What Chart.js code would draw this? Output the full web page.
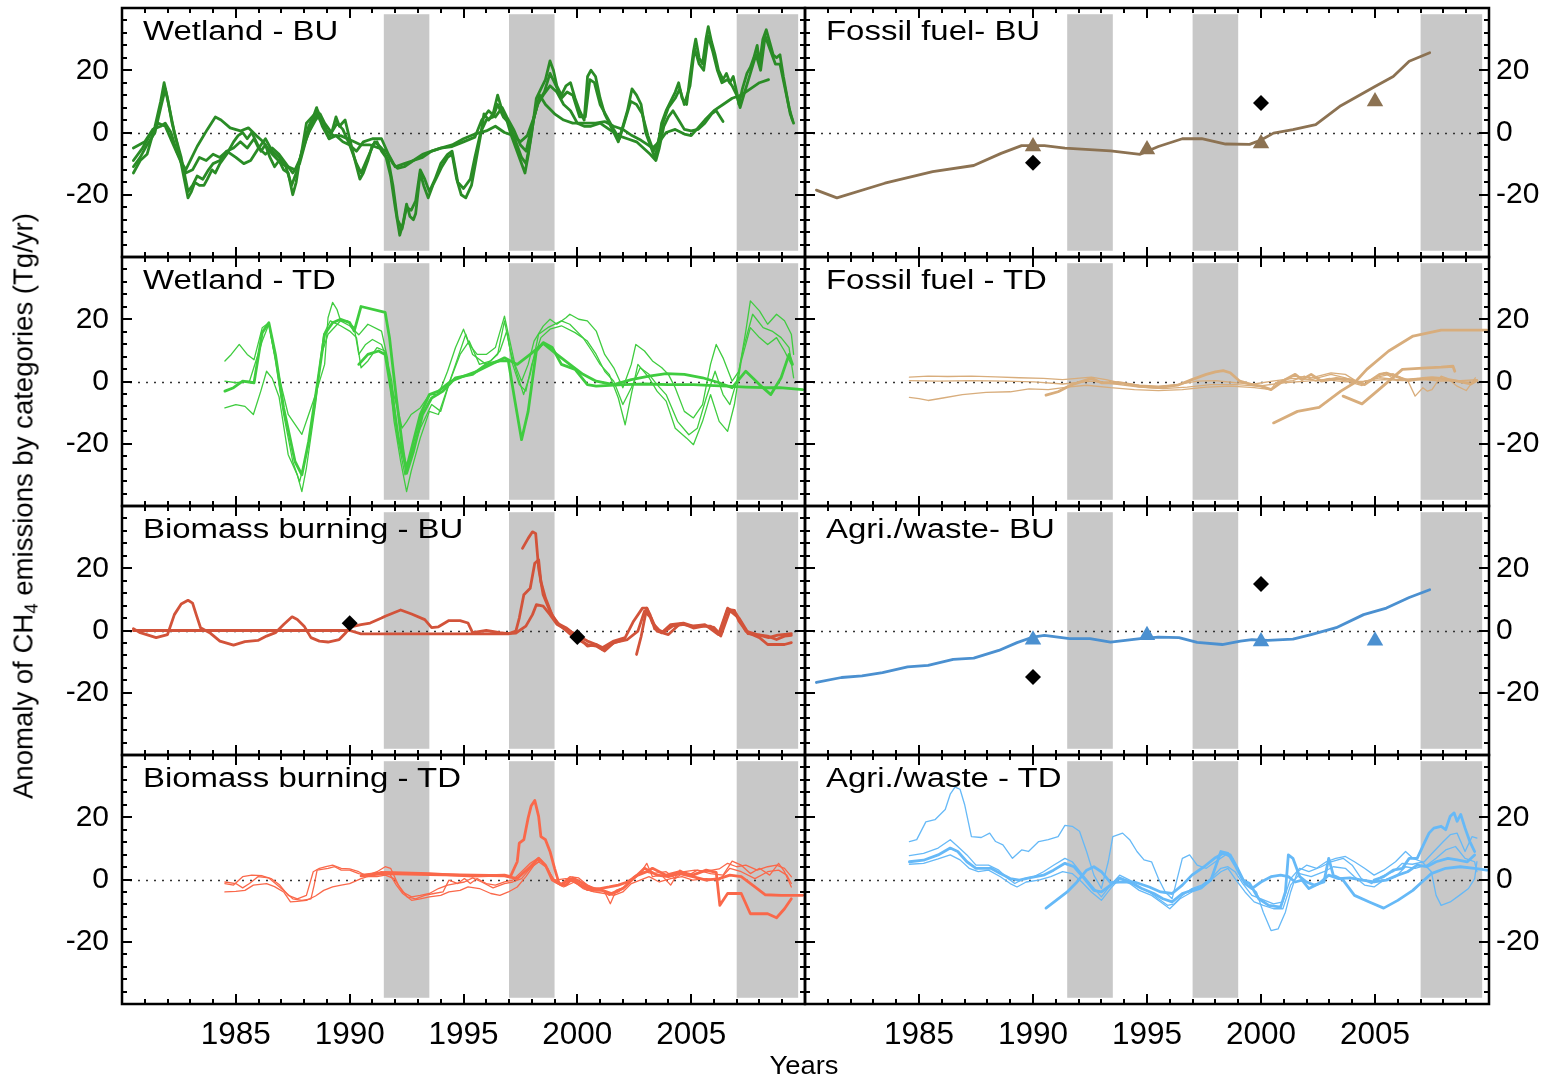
<!DOCTYPE html>
<html><head><meta charset="utf-8">
<script src="https://cdn.jsdelivr.net/npm/chart.js@4.4.1/dist/chart.umd.min.js"></script>
<style>
html,body{margin:0;padding:0;background:#fff;width:1555px;height:1078px;overflow:hidden;}
#wrap{position:relative;width:1555px;height:1078px;}
.pt{position:absolute;font-family:"Liberation Sans",Arial,sans-serif;font-size:27px;line-height:27px;color:#000;transform:scaleX(1.22);transform-origin:0 0;white-space:nowrap;z-index:5;}
#ytitle{position:absolute;left:24px;top:506px;transform:translate(-50%,-50%) rotate(-90deg) scaleX(1.02);font-family:"Liberation Sans",Arial,sans-serif;font-size:27px;line-height:27px;white-space:nowrap;z-index:5;}
#ytitle sub{font-size:0.68em;vertical-align:-0.28em;line-height:0;}
#xtitle{position:absolute;left:804px;top:1052px;transform:translateX(-50%) scaleX(1.05);font-family:"Liberation Sans",Arial,sans-serif;font-size:26px;line-height:26px;white-space:nowrap;z-index:5;}
</style></head><body><div id="wrap"></div>
<script>
// ---------------- data ----------------
const X_TICKS = [1985, 1990, 1995, 2000, 2005];
const Y_TICKS = [-20, 0, 20];
const X_RANGE = [1980, 2010];
const Y_RANGE = [-40, 40];
const SHADE_RANGE = [-38, 38];
const PERIODS = [[1991.5, 1993.5], [1997, 1999], [2007, 2009.7]];

// Wetland - BU
const WBU1 = [[1980.5,-13],[1980.8,-9],[1981.1,-7],[1981.45,2],[1981.7,10],[1981.85,16],[1982.0,11],[1982.2,3],[1982.4,-3],[1982.6,-10],[1982.9,-21],[1983.05,-19],[1983.2,-16],[1983.4,-17],[1983.6,-17],[1983.75,-15],[1983.95,-12],[1984.1,-13],[1984.3,-10],[1984.6,-7],[1984.9,-3],[1985.1,-1],[1985.3,0],[1985.5,-2],[1985.7,0],[1985.9,-3],[1986.1,-6],[1986.3,-4],[1986.5,-8],[1986.7,-11],[1986.9,-9],[1987.1,-12],[1987.3,-13],[1987.5,-20],[1987.65,-16],[1987.8,-9],[1988.0,-4],[1988.2,2],[1988.4,5],[1988.55,8],[1988.7,4],[1988.9,2],[1989.1,-2],[1989.25,1],[1989.4,5],[1989.55,2],[1989.8,4],[1990.0,-2],[1990.2,-8],[1990.45,-15],[1990.6,-13],[1990.8,-9],[1991.0,-4],[1991.2,-3],[1991.4,-6],[1991.6,-8],[1991.8,-14],[1992.0,-24],[1992.2,-33],[1992.35,-29],[1992.5,-23],[1992.65,-27],[1992.8,-28],[1992.9,-26],[1993.1,-13],[1993.25,-17],[1993.45,-21],[1993.65,-17],[1993.85,-14],[1994.05,-11],[1994.3,-8],[1994.5,-7],[1994.7,-15],[1994.9,-20],[1995.1,-21],[1995.35,-17],[1995.55,-9],[1995.75,-1],[1995.9,6],[1996.1,4],[1996.3,6],[1996.5,12],[1996.7,7],[1996.9,4],[1997.1,-1],[1997.3,-5],[1997.5,-9],[1997.7,-13],[1997.85,-7],[1998.0,0],[1998.2,11],[1998.4,14],[1998.6,17],[1998.8,23],[1998.95,20],[1999.1,15],[1999.3,12],[1999.5,15],[1999.7,16],[1999.9,11],[2000.1,7],[2000.3,4],[2000.45,18],[2000.6,20],[2000.8,18],[2001.0,11],[2001.2,6],[2001.4,3],[2001.6,0],[2001.8,-3],[2002.0,2],[2002.2,7],[2002.4,14],[2002.6,12],[2002.8,9],[2003.0,0],[2003.2,-4],[2003.4,-8],[2003.55,-4],[2003.7,3],[2003.9,7],[2004.1,10],[2004.3,13],[2004.45,16],[2004.6,11],[2004.8,9],[2004.95,18],[2005.1,26],[2005.2,30],[2005.35,24],[2005.5,22],[2005.65,30],[2005.75,34],[2005.9,29],[2006.05,25],[2006.2,20],[2006.4,17],[2006.55,19],[2006.7,16],[2006.85,18],[2007.0,13],[2007.1,9],[2007.25,14],[2007.45,19],[2007.6,21],[2007.75,24],[2007.9,28],[2008.0,22],[2008.15,30],[2008.3,33],[2008.45,29],[2008.6,25],[2008.75,24],[2008.9,25],[2009.05,18],[2009.2,12],[2009.35,6],[2009.5,3]];
const WBU2 = [[1980.5,-11],[1980.8,-8],[1981.1,-4],[1981.45,0],[1981.7,8],[1981.9,14],[1982.05,9],[1982.3,0],[1982.6,-8],[1982.9,-19],[1983.1,-17],[1983.3,-14],[1983.55,-15],[1983.8,-12],[1984.0,-10],[1984.3,-9],[1984.6,-6],[1984.9,-5],[1985.2,-3],[1985.5,-5],[1985.8,-2],[1986.0,-5],[1986.3,-2],[1986.6,-6],[1986.9,-8],[1987.2,-11],[1987.45,-17],[1987.7,-12],[1987.9,-6],[1988.2,0],[1988.5,4],[1988.7,6],[1988.9,3],[1989.2,0],[1989.45,3],[1989.7,1],[1990.0,-4],[1990.3,-10],[1990.5,-13],[1990.8,-8],[1991.1,-3],[1991.4,-5],[1991.7,-9],[1991.9,-17],[1992.1,-28],[1992.3,-31],[1992.5,-24],[1992.7,-25],[1992.9,-22],[1993.1,-12],[1993.3,-15],[1993.5,-19],[1993.75,-15],[1994.0,-10],[1994.3,-7],[1994.5,-6],[1994.75,-16],[1995.0,-18],[1995.3,-15],[1995.5,-8],[1995.75,0],[1996.0,4],[1996.3,5],[1996.5,9],[1996.75,5],[1997.0,3],[1997.3,-3],[1997.55,-8],[1997.75,-10],[1997.9,-4],[1998.1,5],[1998.3,10],[1998.55,13],[1998.8,19],[1999.0,16],[1999.3,11],[1999.55,13],[1999.8,12],[2000.1,5],[2000.35,5],[2000.55,17],[2000.75,16],[2001.0,9],[2001.3,5],[2001.6,1],[2001.85,-2],[2002.1,4],[2002.35,10],[2002.6,9],[2002.85,6],[2003.1,-1],[2003.35,-6],[2003.55,-3],[2003.75,3],[2004.0,8],[2004.3,11],[2004.5,14],[2004.7,9],[2004.95,15],[2005.15,27],[2005.35,22],[2005.55,20],[2005.75,31],[2005.95,26],[2006.15,20],[2006.35,16],[2006.6,17],[2006.8,15],[2007.0,12],[2007.15,8],[2007.35,13],[2007.6,19],[2007.85,25],[2008.05,20],[2008.25,31],[2008.45,27],[2008.7,22],[2008.9,22],[2009.1,15],[2009.3,8],[2009.45,4]];
const WBU3 = [[1980.5,-5],[1981.0,-3],[1981.35,1],[1981.7,2],[1981.9,3],[1982.15,0],[1982.4,-6],[1982.65,-10],[1982.8,-12],[1983.3,-4.5],[1983.75,1],[1984.1,5],[1984.35,4],[1984.75,1.5],[1985.2,0.5],[1985.55,1.5],[1985.9,-1],[1986.2,-3],[1986.6,-7],[1987.0,-10],[1987.3,-11],[1987.6,-12],[1987.85,-8],[1988.1,3],[1988.35,5],[1988.6,7],[1988.75,4],[1989.0,0.5],[1989.3,-1],[1989.6,-1],[1989.9,-2],[1990.2,-3],[1990.5,-4],[1990.9,-4],[1991.3,-5],[1991.6,-6],[1991.9,-10],[1992.1,-11.5],[1992.4,-11],[1992.8,-9],[1993.2,-7],[1993.6,-6],[1994.0,-5],[1994.5,-4],[1995.0,-2],[1995.5,-0.5],[1996.0,0.5],[1996.4,2],[1996.8,0],[1997.2,-1],[1997.5,-3],[1997.8,-1],[1998.1,5],[1998.35,12],[1998.6,9],[1999.0,6],[1999.4,4],[1999.8,3],[2000.3,3],[2000.8,3],[2001.2,3.5],[2001.6,2],[2002.0,1],[2002.4,-1],[2002.8,-2.5],[2003.1,-4],[2003.3,-5],[2003.6,-3],[2003.9,0],[2004.3,1],[2004.7,-0.5],[2005.0,-1],[2005.3,1.5],[2005.6,4],[2006.0,7],[2006.4,9],[2006.8,11],[2007.2,12],[2007.6,14],[2008.0,16],[2008.4,17]];
const WBU4 = [[1980.5,-9],[1980.9,-5],[1981.3,0],[1981.6,3],[1981.9,2],[1982.2,-3],[1982.5,-8],[1982.8,-13],[1983.1,-12],[1983.4,-8],[1983.7,-9],[1984.0,-7],[1984.3,-8],[1984.6,-6],[1985.0,-8],[1985.35,-10],[1985.65,-9],[1986.0,-5],[1986.3,-7],[1986.6,-5],[1986.9,-7],[1987.2,-10],[1987.5,-13],[1987.8,-10],[1988.1,-2],[1988.4,4],[1988.6,6],[1988.8,2],[1989.1,-2],[1989.4,-1],[1989.7,-3],[1990.0,-4],[1990.3,-6],[1990.6,-3],[1991.0,-2],[1991.4,-2],[1991.7,-7],[1992.0,-11],[1992.4,-10],[1992.8,-9],[1993.2,-8],[1993.6,-6],[1994.0,-5],[1994.5,-4.5],[1995.0,-3],[1995.5,-1.5],[1995.8,4],[1996.1,7],[1996.4,5],[1996.7,8],[1996.9,5],[1997.2,1],[1997.5,-4],[1997.75,-6],[1998.0,2],[1998.25,9],[1998.5,12],[1998.8,15],[1999.1,13],[1999.4,9],[1999.7,7],[2000.0,3],[2000.3,2],[2000.6,2],[2001.0,3],[2001.4,1],[2001.8,-1],[2002.2,-2],[2002.6,-3],[2002.9,-5],[2003.2,-7],[2003.45,-9],[2003.6,-5],[2003.8,2],[2004.0,5],[2004.2,7],[2004.45,4],[2004.7,1],[2005.0,0.5],[2005.3,1],[2005.6,3],[2005.9,6],[2006.1,7],[2006.4,3.5]];

// Wetland - TD
const WTD1 = [[1984.52,6.6],[1984.8,8.7],[1985.15,11.9],[1985.5,8.7],[1985.8,7],[1986.16,17.3],[1986.45,18.9],[1986.64,10.9],[1986.95,0],[1987.3,-10.6],[1987.9,-17],[1988.2,-10.6],[1988.5,-4.2],[1988.9,5.5],[1989.05,20.5],[1989.25,25.4],[1989.44,23.2],[1989.6,19.5],[1989.9,19.5],[1990.2,17.3],[1990.4,8.7],[1990.7,11.9],[1991.0,13.5],[1991.4,11.9],[1991.56,8.7],[1991.85,-2],[1992.14,-9.6],[1992.3,-15],[1992.5,-13],[1992.7,-10.6],[1993.1,-8.5],[1993.5,-4.2],[1993.9,-4.2],[1994.3,3.3],[1994.65,10.9],[1995.0,16.8],[1995.25,11.9],[1995.6,8.7],[1996.0,8.7],[1996.4,10.9],[1996.8,21],[1996.97,15.2],[1997.26,5.5],[1997.55,0.1],[1997.84,5.5],[1998.1,13],[1998.5,17.8],[1998.8,20],[1999.1,18.4],[1999.5,20.5],[1999.67,21.6],[2000.06,20],[2000.44,19.5],[2000.83,16.2],[2001.2,8.7],[2001.6,4.4],[2002.0,-2],[2002.37,5.5],[2002.57,11.9],[2002.95,9.8],[2003.3,6.6],[2003.7,4.5],[2004.0,2.3],[2004.3,-2],[2004.7,-9.6],[2005.1,-11.7],[2005.5,-7.4],[2005.85,5.5],[2006.1,11.9],[2006.4,7.6],[2006.8,0.1],[2007.1,3.3],[2007.4,16.2],[2007.6,25.9],[2008.0,22.7],[2008.36,18.4],[2008.75,21.6],[2009.1,19.5],[2009.4,15.2],[2009.5,8.7]];
const WTD2 = [[1984.52,-8.5],[1985.0,-7.4],[1985.4,-8],[1985.77,-10.6],[1986.1,-3],[1986.35,3.3],[1986.6,1],[1986.9,-5],[1987.3,-23.5],[1987.7,-30],[1987.9,-35.4],[1988.1,-27.8],[1988.5,-7.4],[1988.76,8.7],[1989.05,15.2],[1989.6,19.5],[1990.0,17.9],[1990.4,15],[1990.8,18.4],[1991.4,16.2],[1991.66,7.6],[1991.95,-12.8],[1992.24,-25.7],[1992.5,-35.4],[1992.7,-28.9],[1993.1,-18.2],[1993.5,-9.6],[1993.9,-10.6],[1994.3,-2],[1994.65,5.5],[1995.1,15.2],[1995.4,8.7],[1996.0,5.5],[1996.5,8.7],[1996.8,19.5],[1997.06,9.8],[1997.36,2.3],[1997.64,-4.2],[1997.93,2.3],[1998.3,15.2],[1998.7,17.3],[1999.3,19.5],[1999.67,18.4],[2000.25,14.1],[2000.64,9.8],[2001.0,5.5],[2001.4,2.3],[2001.8,-5.3],[2002.1,-13.9],[2002.37,-4.2],[2002.66,5.5],[2003.15,1.2],[2003.5,-3.1],[2003.9,-6.3],[2004.3,-15],[2004.8,-18.2],[2005.1,-20.3],[2005.5,-12.8],[2005.85,-4.2],[2006.23,-12.8],[2006.6,-16],[2006.9,-7.4],[2007.2,6.6],[2007.6,17.3],[2008.0,14.1],[2008.36,11.9],[2008.75,14.1],[2009.1,9.8],[2009.4,5.5]];
const WTD3 = [[1984.52,0.1],[1985.0,-0.4],[1985.6,0.1],[1986.16,13],[1986.45,18.4],[1986.74,6.6],[1987.1,-10.6],[1987.5,-25.7],[1987.8,-32.2],[1988.1,-23.5],[1988.5,-5.3],[1988.86,15.2],[1989.15,19.5],[1989.6,17.9],[1990.0,16.2],[1990.3,14.1],[1990.5,4.4],[1990.8,6.6],[1991.2,10.9],[1991.56,9.8],[1991.85,0.1],[1992.14,-19.2],[1992.43,-30],[1992.7,-23.5],[1993.1,-15],[1993.6,-7.4],[1994.0,-9.6],[1994.4,0.1],[1994.85,8.7],[1995.25,13],[1995.7,5.5],[1996.2,6.6],[1996.6,9.8],[1996.9,16.2],[1997.16,5.5],[1997.45,-1],[1997.74,-3.1],[1998.0,5.5],[1998.4,14.1],[1998.8,16.8],[1999.3,17.9],[1999.9,15.7],[2000.44,13],[2000.83,8.7],[2001.2,3.3],[2001.6,0.1],[2002.0,-7.4],[2002.37,-2],[2002.76,4.4],[2003.15,2.3],[2003.5,-1],[2003.9,-4.2],[2004.4,-12.8],[2004.9,-17.1],[2005.27,-15],[2005.66,-5.3],[2006.05,3.3],[2006.4,-4.2],[2006.7,-7.4],[2007.0,0.1],[2007.3,10.9],[2007.7,21.6],[2008.16,17.3],[2008.55,16.2],[2008.95,14.1],[2009.3,10.9],[2009.5,1.2]];
const WTD4 = [[1984.52,-3.1],[1984.9,-2],[1985.3,0.1],[1985.8,-0.4],[1986.16,15.7],[1986.45,18.9],[1986.74,8.7],[1987.1,-8.5],[1987.6,-25.7],[1987.9,-30],[1988.2,-19.2],[1988.6,0.1],[1988.9,15.2],[1989.25,18.9],[1989.6,20],[1990.0,18.9],[1990.2,16.2],[1990.5,24.1],[1991.56,22.2],[1991.75,14.1],[1992.05,-5.3],[1992.33,-21.4],[1992.5,-29.5],[1992.8,-22.5],[1993.2,-10.6],[1993.6,-5.3],[1994.1,-3.1],[1994.65,1.2],[1995.4,2.3],[1996.0,5.5],[1996.6,6.6],[1996.97,6.6],[1997.26,-6.3],[1997.55,-18.7],[1997.84,-9.6],[1998.2,9.8],[1998.5,12.5],[1998.9,10.9],[1999.3,5.5],[1999.9,3.9],[2000.44,-1],[2000.83,-1.5],[2002.0,-1],[2003.0,-0.8],[2004.0,-1],[2005.1,-1],[2006.0,-1.3],[2006.6,-1.5],[2007.4,-1.8],[2008.2,-2],[2008.9,-2],[2009.9,-2.6]];
const WTD5 = [[1990.4,5.5],[1990.8,8.7],[1991.27,9.8],[1991.56,8.7],[1991.85,-4.2],[1992.14,-18.2],[1992.5,-27.8],[1992.8,-19.2],[1993.1,-10.6],[1993.5,-4.2],[1993.9,-3.1],[1994.45,0.1],[1995.0,1.7],[1995.6,3.3],[1996.2,5.5],[1996.8,7.6],[1997.36,5.5],[1997.93,8.7],[1998.5,12.2],[1999.1,8.7],[1999.67,5.5],[2000.25,2.3],[2000.83,0.1],[2001.6,-1],[2002.37,0.6],[2003.15,1.7],[2003.9,2.5],[2004.7,2.3],[2005.5,1.2],[2006.23,-0.4],[2006.8,-2],[2007.4,3.3],[2008.0,-1],[2008.5,-4.2],[2008.95,1.2],[2009.3,8.7],[2009.45,5.5]];

// Biomass burning - BU
const BBU1 = [[1980.5,0.6],[1980.8,-0.7],[1981.5,-2.3],[1982.0,-1.3],[1982.3,5.1],[1982.6,8.5],[1982.9,9.7],[1983.1,8.8],[1983.26,5.1],[1983.45,0.9],[1983.85,-0.7],[1984.3,-3.4],[1984.9,-4.7],[1985.4,-3.6],[1985.97,-3.2],[1986.35,-1.8],[1986.74,-0.7],[1987.1,1.9],[1987.47,4.4],[1987.7,3.5],[1988.0,1.4],[1988.3,-2.3],[1988.67,-3.4],[1989.05,-3.7],[1989.54,-2.9],[1989.83,-0.7],[1990.0,1.1],[1990.5,1.9],[1990.9,2.4],[1991.4,4],[1991.56,4.6],[1992.24,6.6],[1992.72,5.3],[1993.3,3.5],[1993.6,0.9],[1993.9,1.2],[1994.36,3.2],[1994.85,3.2],[1995.2,2.4],[1995.4,-0.7],[1996.0,0],[1996.6,-0.7],[1996.97,-1],[1997.3,-0.8],[1997.74,1.4],[1998.03,5.1],[1998.2,8.3],[1998.5,7.8],[1998.8,5.1],[1999.1,2],[1999.5,0.3],[1999.8,-0.7],[2000.06,-1.8],[2000.44,-3.4],[2000.83,-4.5],[2001.1,-5.5],[2001.6,-3.4],[2002.1,-2.3],[2002.47,3],[2002.86,7.2],[2003.05,7.2],[2003.3,2.4],[2003.7,-0.7],[2004.1,1.9],[2004.66,2.4],[2005.07,1.4],[2005.6,1.9],[2006.2,-1.3],[2006.6,7.2],[2007.0,5.1],[2007.4,-0.2],[2007.9,-1.3],[2008.36,-1.8],[2008.75,-2.9],[2009.1,-1.8],[2009.4,-1.6]];
const BBU2 = [[1980.5,0],[1990.0,0],[1990.5,-1.1],[1996.97,-1.1],[1997.3,-0.2],[1997.45,4],[1997.65,11.5],[1997.93,13.6],[1998.13,21.6],[1998.3,22.7],[1998.4,15.7],[1998.6,10.4],[1998.9,4.8],[1999.2,1.9],[1999.5,0],[1999.87,-2.3],[2000.44,-4.5],[2000.83,-5],[2001.2,-6.6],[2001.6,-3.9],[2002.2,-2.9],[2002.66,-0.2],[2002.95,6.2],[2003.25,4],[2003.5,-0.2],[2004.0,-1.3],[2004.5,2.1],[2005.07,1.4],[2005.85,1.4],[2006.3,-1.8],[2006.7,6.4],[2007.1,4],[2007.5,-0.7],[2008.0,-2.3],[2008.36,-4.5],[2008.75,-4.5],[2009.1,-4.5],[2009.4,-3.9]];
const BBU3 = [[1997.59,26.4],[1997.84,29.6],[1998.03,31.7],[1998.17,31.2],[1998.3,20],[1998.5,11.5],[1998.8,6.2],[1999.1,2.4],[1999.5,0.9],[2000.06,-2.3],[2000.44,-5],[2000.83,-4.5],[2001.1,-6.1],[2001.6,-4],[2002.0,-3]];
const BBU4 = [[2002.6,-7.7],[2002.8,-2],[2003.05,7.2],[2003.2,5],[2003.4,0.5],[2003.8,-0.5],[2004.2,1.5],[2004.7,2],[2005.1,0.8],[2005.6,1.5],[2006.0,1],[2006.25,-1],[2006.6,6.8],[2006.9,6.5],[2007.1,3],[2007.5,-1],[2008.0,-1.5],[2008.4,-2.3],[2008.8,-1.5],[2009.2,-1.2],[2009.4,-1]];
const BBU_DIAMONDS = [[1990, 2.3], [2000, -2.1]];

// Biomass burning - TD
const BTD1 = [[1984.52,-0.8],[1985.0,-1.3],[1985.3,-2.7],[1985.6,-1.3],[1985.97,0.9],[1986.45,0.5],[1986.74,-1.3],[1987.1,-3.5],[1987.5,-6.2],[1987.9,-6.7],[1988.3,-6.2],[1988.44,-1.8],[1988.57,3],[1989.05,3.6],[1989.34,4.1],[1989.63,3],[1990.0,3],[1990.4,1.9],[1990.8,1.4],[1991.2,2.5],[1991.56,4.1],[1991.8,3.6],[1992.14,-1.8],[1992.53,-5.6],[1992.9,-6.2],[1993.3,-5.1],[1993.7,-4.5],[1994.1,-4],[1994.36,-0.2],[1994.75,-1.3],[1995.04,0.3],[1995.3,-1.3],[1995.6,0.3],[1996.0,-1.3],[1996.4,-1.8],[1996.8,-0.8],[1997.16,-0.2],[1997.55,2.5],[1997.93,5.2],[1998.3,7],[1998.6,4.6],[1998.9,0.3],[1999.3,-1.3],[1999.67,0.9],[2000.06,0.5],[2000.44,-1.8],[2000.83,-2.9],[2001.2,-4],[2001.45,-7.8],[2001.7,-3.5],[2002.1,-2.4],[2002.47,0.9],[2002.76,1.9],[2003.05,5.2],[2003.3,0.9],[2003.7,1.4],[2004.1,-1.8],[2004.5,3],[2004.9,1.4],[2005.27,3],[2005.85,1.9],[2006.4,1.4],[2006.8,5.9],[2007.2,4.6],[2007.6,1.9],[2008.0,3.6],[2008.45,1.4],[2008.84,5.2],[2009.1,2.5],[2009.4,-2.4]];
const BTD2 = [[1984.52,-4],[1985.0,-3.8],[1985.4,-3.5],[1985.77,-1.8],[1986.35,-1.3],[1986.7,-2.3],[1987.1,-4],[1987.4,-7.2],[1987.7,-7],[1988.1,-6.7],[1988.5,-5.3],[1988.86,-3.5],[1989.25,-2.4],[1989.63,-1.8],[1990.0,-1.3],[1990.5,0.3],[1991.0,1.4],[1991.4,2.5],[1991.75,1.9],[1992.05,-1.8],[1992.33,-4.5],[1992.72,-6.7],[1993.1,-6.2],[1993.5,-5.6],[1994.0,-5.1],[1994.36,-4],[1994.85,-3.5],[1995.2,-2.4],[1995.7,-2.9],[1996.2,-4.5],[1996.6,-5.1],[1996.97,-4],[1997.36,-2.4],[1997.74,0.9],[1998.1,4.6],[1998.4,6.3],[1998.7,3.6],[1999.0,-0.8],[1999.4,-2.4],[1999.87,-0.8],[2000.25,-2.9],[2000.73,-4],[2001.2,-4.5],[2001.6,-5.1],[2002.0,-4],[2002.37,-1.3],[2002.76,-0.2],[2003.15,0.9],[2003.6,-0.8],[2004.1,0.3],[2004.6,0.9],[2005.07,-0.2],[2005.66,0.3],[2006.23,-0.2],[2006.7,3.6],[2007.2,2.5],[2007.8,0.3],[2008.36,2.5],[2008.84,3],[2009.2,1.4],[2009.4,-1.3]];
const BTD3 = [[1984.52,-1.3],[1984.9,-1.8],[1985.3,0.9],[1985.7,1.4],[1986.16,1.2],[1986.55,0.3],[1986.93,-1.8],[1987.3,-5.1],[1987.7,-6.2],[1988.1,-5.1],[1988.4,2.5],[1988.67,3.6],[1988.96,4.1],[1989.25,4.6],[1989.63,3.6],[1990.0,3.4],[1990.4,2.5],[1990.8,0.9],[1991.2,0.9],[1991.56,1.4],[1991.95,0.3],[1992.33,-4],[1992.72,-5.6],[1993.1,-5.1],[1993.5,-4.5],[1993.9,-2.9],[1994.3,-1.8],[1994.65,-1.3],[1995.04,-0.8],[1995.4,0.5],[1995.8,-0.8],[1996.3,-2.7],[1996.8,-1.3],[1997.16,-0.8],[1997.55,0.3],[1997.93,3.6],[1998.3,5.7],[1998.6,4.1],[1999.0,-0.2],[1999.5,0.3],[1999.96,-1.3],[2000.44,-3.5],[2001.0,-2.9],[2001.4,-5.1],[2001.8,-4],[2002.2,-1.8],[2002.57,1.4],[2002.95,2.5],[2003.3,1.9],[2003.9,2.5],[2004.3,0.3],[2004.7,2.5],[2005.17,3],[2005.66,2.7],[2006.23,3.4],[2006.6,5.2],[2007.0,4.1],[2007.4,4.6],[2007.9,3],[2008.36,4.1],[2008.75,4.6],[2009.1,3.6],[2009.4,0.9]];
const BTD4 = [[1990.6,1.4],[1991.56,2.3],[1993.5,1.9],[1995.4,1.1],[1996.8,1.4],[1997.06,0.9],[1997.36,5.7],[1997.45,11.7],[1997.65,12.8],[1997.84,19.8],[1997.97,23.6],[1998.13,25.4],[1998.3,20.3],[1998.4,13.8],[1998.6,12.8],[1998.8,9],[1999.0,3.6],[1999.2,-1.3],[1999.5,-1.8],[1999.8,0.5],[2000.25,-1.3],[2000.64,-2.9],[2001.0,-2.9],[2001.4,-2.4],[2001.8,-1.8],[2002.2,-0.8],[2002.66,1.4],[2003.05,2.5],[2003.3,3.6],[2003.9,1.4],[2004.5,2.5],[2005.07,1.4],[2005.66,3],[2006.1,2.3],[2006.26,-8.3],[2006.6,-4.5],[2007.2,-4.5],[2007.6,-11],[2008.36,-11],[2008.75,-12.3],[2009.1,-9.4],[2009.4,-6.2]];
const BTD5 = [[1990.5,1.2],[1991.56,1.9],[1993.5,1.6],[1996.8,1.2],[1997.36,0.3],[1997.93,4.1],[1998.3,6.8],[1998.6,4.6],[1998.9,-0.2],[1999.3,-1.8],[1999.67,0.3],[2000.15,-1.8],[2000.64,-3.5],[2001.1,-3.5],[2001.5,-4.5],[2002.0,-2.9],[2002.47,0.3],[2002.95,3.6],[2003.5,1.4],[2004.0,0.9],[2004.5,1.9],[2005.07,0.9],[2005.66,-0.2],[2006.23,0.3],[2006.7,1.4],[2007.2,0.9],[2007.8,-2.4],[2008.26,-4.9],[2008.95,-5.1],[2009.9,-5.1]];

// Fossil fuel - BU
const FBU1 = [[1980.5,-18.5],[1981.4,-21],[1983.5,-16.3],[1985.6,-12.6],[1987.4,-10.6],[1988.6,-6.7],[1989.5,-4.2],[1990.5,-4.2],[1991.4,-5],[1993.4,-5.9],[1994.7,-7],[1995.5,-4.5],[1996.55,-2],[1997.4,-2],[1998.45,-3.7],[1999.5,-3.8],[2000.0,-2.4],[2000.55,-0.2],[2001.4,0.9],[2002.4,2.5],[2003.5,8.6],[2005.0,14.8],[2005.8,18],[2006.5,22.9],[2007.4,25.6]];
const FBU_TRIANGLES = [[1990, -4.5], [1995, -5.5], [2000, -3.5], [2005, 10]];
const FBU_DIAMONDS = [[1990, -9.7], [2000, 9.5]];

// Fossil fuel - TD
const FTD1 = [[1984.58,1.4],[1985.4,1.7],[1986.26,1.6],[1987.3,1.7],[1988.36,1.5],[1989.4,1.2],[1990.46,1],[1991.3,0.6],[1991.93,1],[1992.56,1.4],[1993.2,0.6],[1993.8,-0.4],[1994.66,-1.2],[1995.5,-1.5],[1996.34,-1],[1997.2,0.1],[1998.0,0.3],[1998.9,-0.4],[1999.7,-0.8],[2000.5,0.1],[2001.4,1],[2002.2,0.6],[2003.07,2.3],[2003.7,1.2],[2004.3,-0.4],[2005.2,1.2],[2006.0,0.6],[2006.85,1],[2007.7,0.5],[2008.5,0.3],[2009.4,0.1]];
const FTD2 = [[1984.58,0.3],[1985.84,0.1],[1987.3,0.3],[1988.8,0.1],[1990.04,-0.1],[1991.3,-0.8],[1992.56,0.1],[1993.6,-0.8],[1994.66,-1.8],[1995.7,-2.3],[1996.76,-1.8],[1997.8,-1],[1998.9,-1],[1999.9,-1.5],[2001.0,-0.4],[2002.0,0.1],[2002.86,0.6],[2003.7,-0.1],[2004.54,0.1],[2005.4,0.6],[2006.2,0.3],[2007.1,0.6],[2007.9,0.1],[2008.74,0.3],[2009.47,0.6]];
const FTD3 = [[1984.58,-5.1],[1985.0,-5.5],[1985.4,-6.1],[1986.05,-5.3],[1986.9,-4.2],[1987.94,-3.5],[1989.0,-3.3],[1989.83,-2.4],[1990.67,-2.6],[1991.5,-1.8],[1992.35,-1.2],[1993.4,-2],[1994.45,-2.6],[1995.5,-2.9],[1996.55,-2.6],[1997.6,-1.8],[1998.65,-1.5],[1999.7,-2],[2000.44,-2.6],[2000.65,-0.4],[2001.4,1.7],[2002.2,1.2],[2003.07,2.8],[2003.7,2.3],[2004.3,-0.4],[2004.8,0.5],[2005.4,2.8],[2006.0,0.1]];
const FTD4 = [[2000.65,-0.4],[2001.4,0.3],[2001.9,1.7],[2002.4,0.1],[2003.0,1],[2003.7,0.3],[2004.43,-1.3],[2005.1,1.4],[2005.8,2.5],[2006.45,0.1],[2006.76,-4.7],[2007.1,-2],[2007.3,-3.1],[2007.5,-2.6],[2007.9,1.7],[2008.2,0.9],[2008.6,-1.5],[2009.0,-2.9],[2009.4,1.2]];
const FTD5 = [[1990.57,-4.4],[1991.1,-3.3],[1991.72,-1],[1992.56,1],[1993.0,-0.4],[1993.8,-0.4],[1994.66,-1.5],[1995.5,-2],[1996.34,-1.2],[1996.97,0.6],[1997.6,2.3],[1998.0,3.1],[1998.34,3.5],[1998.65,2.8],[1999.07,0.1],[1999.6,-1],[2000.0,-1.5],[2000.44,-2.6],[2001.0,0.3],[2001.5,2.3],[2001.8,0.6],[2002.2,2.3],[2002.65,0.1],[2003.3,1],[2003.9,0.6],[2004.54,-1],[2005.2,2.3],[2005.5,2.7],[2005.9,1.7],[2006.45,0.3],[2007.1,1],[2007.5,1.2],[2007.9,1],[2008.5,0.3],[2009.2,-0.8],[2009.47,0.3]];
const FTD6 = [[2000.55,-13.3],[2001.6,-9.6],[2002.55,-8.3],[2003.5,-3.1],[2004.1,-0.4],[2004.64,3.9],[2005.6,9.8],[2006.67,14.6],[2007.9,16.5],[2009.9,16.5]];
const FTD7 = [[2003.6,-4.7],[2004.43,-7.2],[2005.17,-2.6],[2006.2,3.9],[2007.27,4.4],[2007.9,4.6],[2008.42,4.9],[2008.5,3.3]];

// Agri./waste - BU
const ABU1 = [[1980.5,-16.7],[1981.6,-15.1],[1982.5,-14.6],[1983.4,-13.5],[1984.5,-11.7],[1985.4,-11.2],[1986.5,-9.3],[1987.4,-8.9],[1988.5,-6.4],[1989.3,-3.9],[1990.0,-2.1],[1990.5,-1.6],[1991.6,-2.6],[1992.5,-2.6],[1993.4,-3.7],[1994.7,-2.6],[1995.5,-2.1],[1996.4,-2.3],[1997.2,-3.8],[1998.3,-4.5],[1999.1,-3.4],[1999.6,-2.9],[2000.3,-3.2],[2001.4,-2.8],[2002.2,-1.3],[2003.3,0.9],[2004.5,5.1],[2005.5,7.2],[2006.5,10.6],[2007.4,13.1]];
const ABU_TRIANGLES = [[1990, -3], [1995, -1.5], [2000, -3.5], [2005, -3.3]];
const ABU_DIAMONDS = [[1990, -14.9], [2000, 14.9]];

// Agri./waste - TD
const ATD1 = [[1984.58,12.2],[1984.9,12.8],[1985.3,18.5],[1985.7,19.2],[1986.15,22.5],[1986.37,27.4],[1986.58,29.7],[1986.8,29],[1987.0,24.1],[1987.3,13.8],[1987.73,13.5],[1988.1,14.9],[1988.36,12.2],[1988.68,11.1],[1989.1,6.8],[1989.5,9.5],[1989.8,9],[1990.25,12.2],[1990.67,12.8],[1991.1,13.8],[1991.4,17.4],[1991.72,17.1],[1992.04,15.5],[1992.35,9],[1992.67,1.4],[1993.0,-2.9],[1993.3,5.7],[1993.5,13.8],[1993.93,14.9],[1994.24,12.8],[1994.56,9],[1994.87,6.3],[1995.2,5.7],[1995.5,0.3],[1995.8,-4],[1996.1,-6.2],[1996.55,6.8],[1996.87,7.9],[1997.2,4.6],[1997.6,3.6],[1998.0,5.7],[1998.45,7.9],[1998.76,6.8],[1999.07,1.4],[1999.4,-1.8],[1999.8,-4],[2000.1,-10.5],[2000.44,-16.4],[2000.75,-15.9],[2001.07,-10.5],[2001.3,-4],[2001.6,2.5],[2002.0,4.6],[2002.44,3.6],[2002.86,5.7],[2003.28,6.8],[2003.7,7.4],[2004.1,5.7],[2004.54,3.6],[2004.96,1.4],[2005.38,3],[2005.9,5.7],[2006.34,9],[2006.66,6.8],[2007.06,5.7],[2007.47,2.5],[2007.68,-5.1],[2007.9,-8.3],[2008.3,-7.2],[2008.7,-5.1],[2009.1,-2.9],[2009.37,0.3],[2009.47,5.7]];
const ATD2 = [[1984.58,7.7],[1985.2,8.4],[1985.84,10.1],[1986.37,12.8],[1986.7,10.6],[1987.1,7.9],[1987.5,4.6],[1988.05,4.6],[1988.5,3],[1988.9,0.3],[1989.2,-1.3],[1989.6,0.3],[1990.04,0.9],[1990.46,2.5],[1990.9,4.6],[1991.4,6.8],[1991.72,5.7],[1992.14,1.9],[1992.56,-1.8],[1993.0,-5.6],[1993.4,-1.8],[1993.8,1.4],[1994.24,-0.2],[1994.66,-2.4],[1995.1,-4],[1995.5,-6.2],[1995.9,-8.3],[1996.2,-7.8],[1996.55,-5.1],[1996.97,-2.9],[1997.4,-1.8],[1997.8,0.3],[1998.24,3.6],[1998.55,4.1],[1998.86,2.5],[1999.2,-1.3],[1999.6,-5.1],[2000.0,-6.2],[2000.55,-7.8],[2000.96,-7.2],[2001.3,0.3],[2001.7,3.6],[2002.1,2.5],[2002.65,4.1],[2003.07,5.7],[2003.6,6.8],[2004.0,4.6],[2004.4,0.3],[2004.86,-1.3],[2005.27,0.9],[2005.8,2.5],[2006.2,5.2],[2006.64,4.9],[2007.16,5.7],[2007.58,9],[2008.0,12.2],[2008.3,14.4],[2008.6,14.9],[2008.95,9],[2009.26,13.8],[2009.47,13.3]];
const ATD3 = [[1984.58,4.9],[1985.2,5.2],[1985.84,6.6],[1986.37,7.9],[1986.8,6.3],[1987.2,3.6],[1987.6,2.5],[1988.05,3],[1988.57,0.9],[1989.0,-1.3],[1989.3,-2.4],[1989.7,-0.8],[1990.25,-0.2],[1990.78,0.9],[1991.3,2.5],[1991.72,1.9],[1992.14,-0.8],[1992.56,-4],[1993.0,-6.7],[1993.4,-2.9],[1993.8,0.3],[1994.24,-1.3],[1994.66,-3.5],[1995.2,-5.1],[1995.6,-7.2],[1996.0,-9.4],[1996.45,-6.2],[1996.97,-4],[1997.4,-2.9],[1997.8,-0.2],[1998.24,2.5],[1998.55,3.6],[1998.86,0.3],[1999.3,-4],[1999.7,-7.2],[2000.1,-8.3],[2000.55,-9.4],[2000.96,-9.4],[2001.3,-1.8],[2001.7,1.9],[2002.2,0.9],[2002.76,2.5],[2003.17,4.1],[2003.7,3.6],[2004.1,0.9],[2004.54,-1.8],[2004.96,-2.4],[2005.38,-0.2],[2005.9,0.9],[2006.34,4.1],[2006.76,3.6],[2007.27,4.6],[2007.68,6.8],[2008.1,9.5],[2008.53,10.6],[2008.95,6.8],[2009.37,5.7],[2009.47,2.5]];
const ATD4 = [[1984.58,5.7],[1985.2,6.2],[1985.84,7.9],[1986.37,10.1],[1986.7,9],[1987.1,5.7],[1987.5,3.6],[1988.15,3.6],[1988.57,1.9],[1989.0,0.3],[1989.4,-0.2],[1989.83,0.5],[1990.46,1.4],[1990.9,3],[1991.4,5.2],[1991.8,4.1],[1992.25,0.3],[1992.67,-3.5],[1993.0,-4],[1993.4,-1.8],[1993.8,0.5],[1994.24,-0.8],[1994.77,-2.9],[1995.3,-4.5],[1995.7,-6.2],[1996.1,-7.2],[1996.55,-4.5],[1996.97,-3.5],[1997.4,-2.4],[1997.8,-0.2],[1998.24,9],[1998.55,8.4],[1998.86,4.6],[1999.2,-0.2],[1999.5,-1.3],[1999.9,-6.2],[2000.34,-8.3],[2000.86,-8.9],[2001.07,-4],[2001.2,7.9],[2001.4,6.8],[2001.7,0.9],[2002.0,-0.8],[2002.33,-1.8],[2002.76,-0.8],[2002.97,6.8],[2003.17,1.4],[2003.6,-0.2],[2004.1,-5.1],[2004.75,-7.2],[2005.38,-9.2],[2006.0,-6.7],[2006.66,-3.5],[2007.06,-0.8],[2007.47,1.9],[2008.1,3.6],[2008.74,4.1],[2009.37,3.6],[2009.9,3]];
const ATD5 = [[1990.57,-9.2],[1991.1,-6.2],[1991.5,-4],[1991.93,-0.8],[1992.35,3],[1992.67,4.1],[1993.0,2.5],[1993.4,-1],[1993.8,-0.8],[1994.45,-0.8],[1995.1,-2.4],[1995.6,-4],[1996.1,-4.5],[1996.55,-1.8],[1996.97,1.4],[1997.5,4.1],[1998.0,7],[1998.34,8.4],[1998.65,7.9],[1998.97,3.6],[1999.3,-1.3],[1999.6,-2.9],[2000.0,-0.8],[2000.44,0.9],[2000.86,1.4],[2001.2,0.9],[2001.5,-0.8],[2001.8,-0.2],[2002.1,-2.9],[2002.55,-1.3],[2002.97,1.4],[2003.4,0.3],[2003.9,0.5],[2004.43,-0.2],[2004.96,-0.8],[2005.5,-0.2],[2006.0,1.4],[2006.43,2.5],[2006.85,4.6],[2007.27,4.1],[2007.68,5.7],[2008.2,6.8],[2008.6,6.3],[2009.05,5.7],[2009.37,7.9]];
const ATD6 = [[2004.96,-0.2],[2005.38,0.9],[2005.8,3],[2006.2,3.6],[2006.5,6.8],[2006.85,6.8],[2007.16,11.7],[2007.37,14.9],[2007.58,16.5],[2007.9,17.1],[2008.1,16],[2008.3,20.3],[2008.47,21.4],[2008.6,18.7],[2008.76,20.9],[2008.95,16.5],[2009.16,12.2],[2009.37,9]];

// ---------------- styles / layout ----------------
const COLORS = {
  wbu: '#2a8c26', wtd: '#3fcc3f', bbu: '#d2533a', btd: '#fa684a',
  fbu: '#8c7252', ftd: '#d8ad7c', abu: '#4b90d0', atd: '#66b9f7', dia: '#000000'
};
const THICK = 2.8, THIN = 1.3;
const ROW_TOP = [8, 257, 506, 755];
const AREA_H = 249;
const PAD = 14;

const PANELS = [
  {col:0,row:0,title:'Wetland - BU',lines:[[WBU1,'wbu',THICK],[WBU2,'wbu',THICK],[WBU3,'wbu',THICK],[WBU4,'wbu',THICK]],marks:[]},
  {col:0,row:1,title:'Wetland - TD',lines:[[WTD4,'wtd',THICK],[WTD5,'wtd',THICK],[WTD1,'wtd',THIN],[WTD2,'wtd',THIN],[WTD3,'wtd',THIN]],marks:[]},
  {col:0,row:2,title:'Biomass burning - BU',lines:[[BBU1,'bbu',THICK],[BBU2,'bbu',THICK],[BBU3,'bbu',THICK],[BBU4,'bbu',THICK]],marks:[[BBU_DIAMONDS,'dia','rectRot',8]]},
  {col:0,row:3,title:'Biomass burning - TD',lines:[[BTD4,'btd',THICK],[BTD5,'btd',THICK],[BTD1,'btd',THIN],[BTD2,'btd',THIN],[BTD3,'btd',THIN]],marks:[]},
  {col:1,row:0,title:'Fossil fuel- BU',lines:[[FBU1,'fbu',THICK]],marks:[[FBU_DIAMONDS,'dia','rectRot',8],[FBU_TRIANGLES,'fbu','triangle',9.5]]},
  {col:1,row:1,title:'Fossil fuel - TD',lines:[[FTD5,'ftd',THICK],[FTD6,'ftd',THICK],[FTD7,'ftd',THICK],[FTD1,'ftd',THIN],[FTD2,'ftd',THIN],[FTD3,'ftd',THIN],[FTD4,'ftd',THIN]],marks:[]},
  {col:1,row:2,title:'Agri./waste- BU',lines:[[ABU1,'abu',THICK]],marks:[[ABU_DIAMONDS,'dia','rectRot',8],[ABU_TRIANGLES,'abu','triangle',9.5]]},
  {col:1,row:3,title:'Agri./waste - TD',lines:[[ATD4,'atd',THICK],[ATD5,'atd',THICK],[ATD6,'atd',THICK],[ATD1,'atd',THIN],[ATD2,'atd',THIN],[ATD3,'atd',THIN]],marks:[]}
];

const panelDeco = {
  id: 'panelDeco',
  beforeDatasetsDraw(chart) {
    const {ctx, chartArea: a, scales: {x, y}} = chart;
    ctx.save();
    ctx.fillStyle = '#c8c8c8';
    const yt = y.getPixelForValue(SHADE_RANGE[1]), yb = y.getPixelForValue(SHADE_RANGE[0]);
    PERIODS.forEach(([s, e]) => {
      const x0 = x.getPixelForValue(s), x1 = x.getPixelForValue(e);
      ctx.fillRect(x0, yt, x1 - x0, yb - yt);
    });
    const y0 = Math.round(y.getPixelForValue(0)) + 0.5;
    ctx.strokeStyle = '#333';
    ctx.lineWidth = 1.4;
    ctx.setLineDash([2, 6]);
    ctx.beginPath();
    ctx.moveTo(a.left + 8, y0);
    ctx.lineTo(a.right - 8, y0);
    ctx.stroke();
    ctx.restore();
  },
  afterDraw(chart) {
    const {ctx, chartArea: a, scales: {x, y}} = chart;
    ctx.save();
    ctx.strokeStyle = '#000';
    ctx.lineWidth = 2;
    ctx.beginPath();
    for (let v = X_RANGE[0]; v <= X_RANGE[1]; v += 1) {
      const px = Math.round(x.getPixelForValue(v));
      const len = v % 5 === 0 ? 10 : 5;
      ctx.moveTo(px, a.top); ctx.lineTo(px, a.top + len);
      ctx.moveTo(px, a.bottom); ctx.lineTo(px, a.bottom - len);
    }
    for (let v = Y_RANGE[0]; v <= Y_RANGE[1]; v += 4) {
      const py = Math.round(y.getPixelForValue(v));
      const len = v % 20 === 0 ? 10 : 5;
      ctx.moveTo(a.left, py); ctx.lineTo(a.left + len, py);
      ctx.moveTo(a.right, py); ctx.lineTo(a.right - len, py);
    }
    ctx.stroke();
    ctx.lineWidth = 2.5;
    ctx.strokeRect(a.left, a.top, a.right - a.left, a.bottom - a.top);
    ctx.restore();
  }
};

const toXY = p => ({x: p[0], y: p[1]});
const FONT_Y = {family: '"Liberation Sans", Arial, sans-serif', size: 30};
const FONT_X = {family: '"Liberation Sans", Arial, sans-serif', size: 31.5};
const wrap = document.getElementById('wrap');

PANELS.forEach(p => {
  const left = p.col === 0;
  const top = ROW_TOP[p.row] - PAD;
  const h = p.row === 3 ? 1078 - top : AREA_H + 2 * PAD;
  const cLeft = left ? 0 : 805 - PAD;
  const w = left ? 805 + PAD : 1555 - cLeft;
  const cv = document.createElement('canvas');
  cv.width = w; cv.height = h;
  cv.style.cssText = 'position:absolute;left:' + cLeft + 'px;top:' + top + 'px;width:' + w + 'px;height:' + h + 'px;';
  wrap.appendChild(cv);

  const t = document.createElement('div');
  t.className = 'pt';
  t.textContent = p.title;
  t.style.left = (left ? 143 : 826) + 'px';
  t.style.top = (ROW_TOP[p.row] + 9.5) + 'px';
  wrap.appendChild(t);

  const datasets = [];
  p.marks.forEach(m => datasets.push({
    data: m[0].map(toXY), showLine: false, pointStyle: m[2], pointRadius: m[3], pointHoverRadius: m[3],
    pointBackgroundColor: COLORS[m[1]], pointBorderColor: COLORS[m[1]], pointBorderWidth: 0
  }));
  p.lines.forEach(l => datasets.push({
    data: l[0].map(toXY), borderColor: COLORS[l[1]], borderWidth: l[2], pointRadius: 0, pointHoverRadius: 0,
    tension: 0, fill: false, borderJoinStyle: 'round', borderCapStyle: 'round'
  }));

  new Chart(cv, {
    type: 'line',
    data: {datasets},
    options: {
      responsive: false, animation: false, devicePixelRatio: 1, events: [],
      layout: {padding: {left: left ? 0 : PAD, right: left ? PAD : 0, top: PAD, bottom: p.row === 3 ? 0 : PAD}},
      plugins: {legend: {display: false}, tooltip: {enabled: false}, title: {display: false}},
      scales: {
        x: {
          type: 'linear', min: X_RANGE[0], max: X_RANGE[1], display: p.row === 3, position: 'bottom',
          grid: {display: false, drawTicks: false}, border: {display: false},
          afterBuildTicks: s => { s.ticks = X_TICKS.map(v => ({value: v})); },
          afterFit: s => { if (p.row === 3) s.height = h - PAD - AREA_H; s.paddingLeft = 0; s.paddingRight = 0; },
          ticks: {autoSkip: false, maxRotation: 0, minRotation: 0, padding: 12, color: '#000', font: FONT_X, callback: v => String(v)}
        },
        y: {
          type: 'linear', min: Y_RANGE[0], max: Y_RANGE[1], position: left ? 'left' : 'right',
          grid: {display: false, drawTicks: false}, border: {display: false},
          afterBuildTicks: s => { s.ticks = Y_TICKS.map(v => ({value: v})); },
          afterFit: s => { s.width = left ? 122 : 66; s.paddingTop = 0; s.paddingBottom = 0; },
          ticks: {padding: left ? 13 : 7, color: '#000', font: FONT_Y, callback: v => String(v)}
        }
      }
    },
    plugins: [panelDeco]
  });
});

const yt = document.createElement('div');
yt.id = 'ytitle';
yt.innerHTML = 'Anomaly of CH<sub>4</sub> emissions by categories (Tg/yr)';
wrap.appendChild(yt);
const xt = document.createElement('div');
xt.id = 'xtitle';
xt.textContent = 'Years';
wrap.appendChild(xt);
</script>
</body></html>
